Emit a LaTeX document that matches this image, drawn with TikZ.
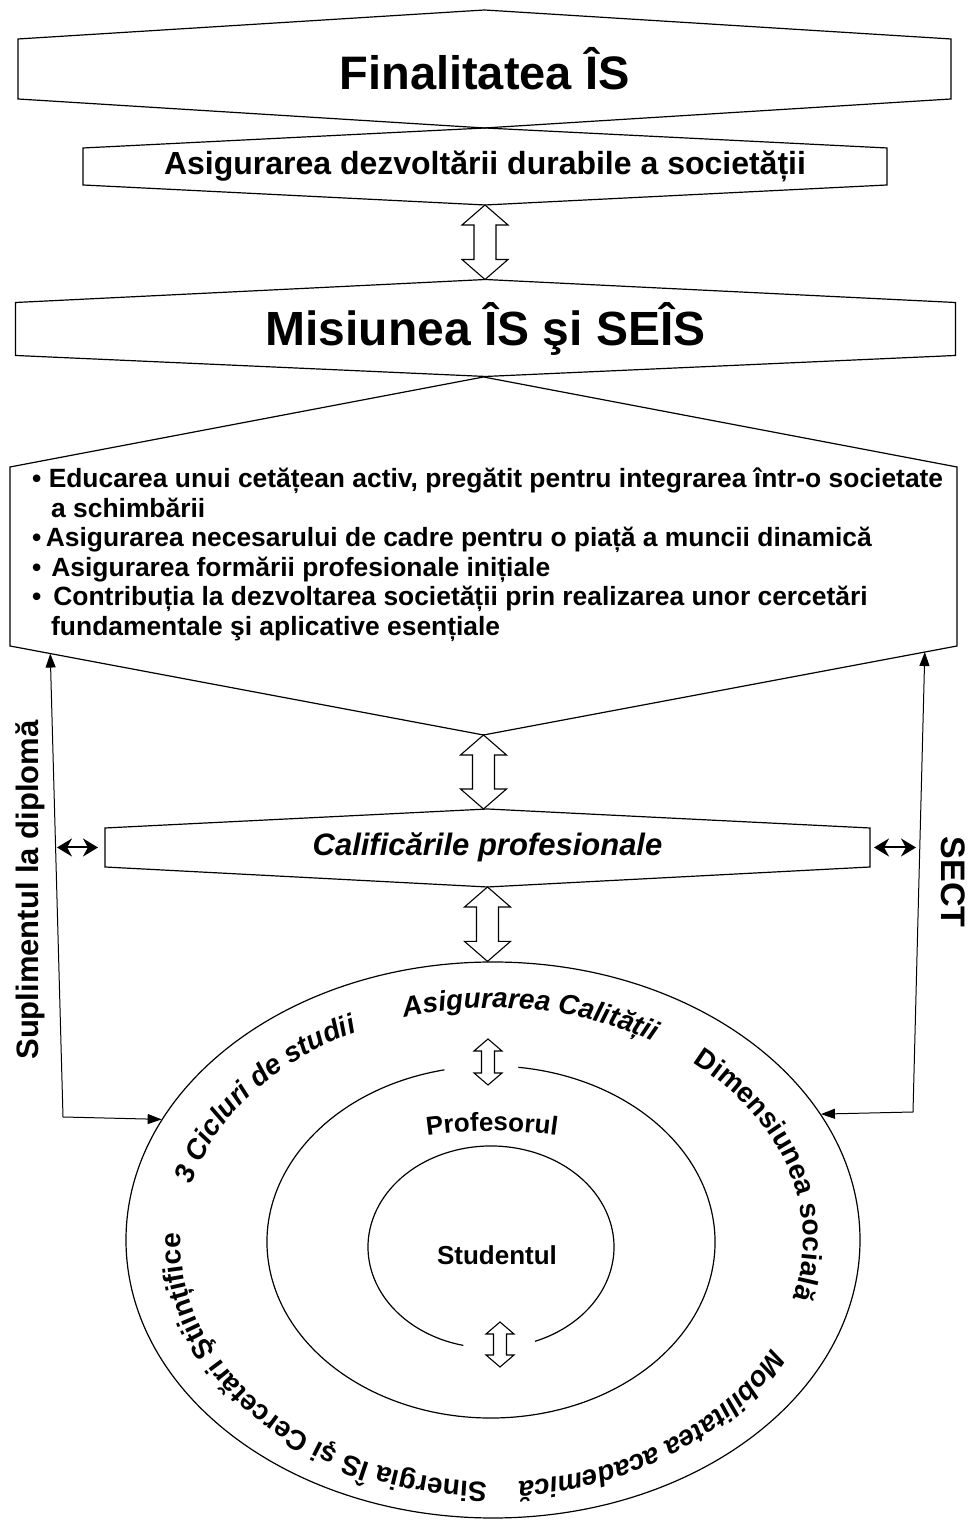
\documentclass[tikz,border=0pt]{standalone}
\usepackage{fontspec}
\setmainfont{Liberation Sans}
\usetikzlibrary{calc,shapes.geometric,arrows.meta,decorations.text}
\tikzset{hexbox/.style={inner sep=0pt,outer sep=0pt}}
\tikzset{frame/.style={draw,line width=1.2pt}}
\tikzset{hollow/.style={draw,line width=1.1pt,fill=white}}
\tikzset{ringline/.style={draw,line width=1.2pt}}
\tikzset{sidearrow/.style={line width=1pt,{Triangle[length=14pt,width=10pt]}-{Triangle[length=14pt,width=10pt]}}}
\tikzset{tinyarrow/.style={line width=2pt,{Stealth[length=15pt,width=18pt]}-{Stealth[length=15pt,width=18pt]}}}
\tikzset{bullets/.style={align=left,inner sep=0pt,font=\fontsize{26.4}{29.5}\selectfont\bfseries}}
\tikzset{ringtext/.style={decorate,decoration={text along path,text align=center,text={#1}}}}
\newcommand{\hexframe}[3]{%
  \coordinate (#1-top) at ($(#1.north)+(0,#2)$);
  \coordinate (#1-bot) at ($(#1.south)+(0,-#3)$);
  \draw[frame] (#1.north west) -- (#1-top) -- (#1.north east) -- (#1.south east)
    -- (#1-bot) -- (#1.south west) -- cycle;}
\newcommand{\twoway}[5]{%
  \draw[hollow] let \p1=(#4), \p2=(#5) in
    (\x1,\y1) -- (\x1+#1pt,\y1-#3pt) -- (\x1+#2pt,\y1-#3pt) -- (\x1+#2pt,\y2+#3pt)
    -- (\x1+#1pt,\y2+#3pt) -- (\x1,\y2) -- (\x1-#1pt,\y2+#3pt) -- (\x1-#2pt,\y2+#3pt)
    -- (\x1-#2pt,\y1-#3pt) -- (\x1-#1pt,\y1-#3pt) -- cycle;}
\newcommand{\ringbf}{\fontsize{28}{30}\selectfont\bfseries}
\newcommand{\ringit}{\fontsize{28}{30}\selectfont\bfseries\itshape}
\newcommand{\profbf}{\fontsize{26}{28}\selectfont\bfseries}

\begin{document}
\begin{tikzpicture}[x=1pt,y=1pt]
    \useasboundingbox (0,0) rectangle (968,1526);

    \node[hexbox,minimum width=933pt,minimum height=60pt,font=\fontsize{47}{50}\selectfont\bfseries] (fin) at (484.5,1457) {Finalitatea ÎS};
    \hexframe{fin}{29}{29}
    \node[hexbox,minimum width=804pt,minimum height=37pt,font=\fontsize{32}{34}\selectfont\bfseries] (dezv) at (485,1359.5) {Asigurarea dezvoltării durabile a societății};
    \hexframe{dezv}{20}{20}
    \node[hexbox,minimum width=940pt,minimum height=48pt,font=\fontsize{48}{50}\selectfont\bfseries] (mis) at (485.5,1197) {Misiunea ÎS şi SEÎS};
    \hexframe{mis}{23}{21}
    \node[hexbox,minimum width=947pt,minimum height=179pt] (goals) at (483.5,969.5) {};
    \hexframe{goals}{90}{89}
    \node[bullets,anchor=west] (goaltext) at ([xshift=22pt,yshift=2pt]goals.west) {%
      • Educarea unui cetățean activ, pregătit pentru integrarea într-o societate\\
      \hspace*{19pt}a schimbării\\
      •\,Asigurarea necesarului de cadre pentru o piață a muncii dinamică\\
      •\hspace{10pt}Asigurarea formării profesionale inițiale\\
      •\hspace{12pt}Contribuția la dezvoltarea societății prin realizarea unor cercetări\\
      \hspace*{19pt}fundamentale şi aplicative esențiale};
    \node[hexbox,minimum width=765pt,minimum height=39pt,font=\fontsize{31}{33}\selectfont\bfseries\itshape] (calif) at (487.5,678.5) {Calificările profesionale};
    \hexframe{calif}{19}{20}
    \node[draw,ellipse,line width=1.2pt,minimum width=734pt,minimum height=556pt,inner sep=0pt] (ring) at (493,286) {};

    \twoway{23}{11}{20}{dezv-bot}{mis-top}
    \twoway{23}{11}{20}{goals-bot}{calif-top}
    \twoway{23}{11}{20}{calif-bot}{ring.north}

    \draw[ringline] ([shift={(102:224 and 176)}]491,284) arc[start angle=102,end angle=443,x radius=224,y radius=176];
    \draw[ringline] ([shift={(-69:123 and 101)}]491,279) arc[start angle=-69,end angle=257,x radius=123,y radius=101];

    \coordinate (qualin) at (488,487);
    \coordinate (profin) at (488,441);
    \coordinate (studout) at (500,204);
    \coordinate (profout) at (500,159);
    \twoway{14}{6.5}{12}{qualin}{profin}
    \twoway{14}{6.5}{12}{studout}{profout}

    \node[font=\fontsize{26}{28}\selectfont\bfseries] (student) at (497,271) {Studentul};
    \path[ringtext={|\profbf|Profesorul}] ([shift={(100:460)}]492,-65) arc[start angle=100,end angle=80,radius=460];

    \path[ringtext={|\ringit|Asigurarea Calității}] ([shift={(115:310 and 232)}]493,286) arc[start angle=115,end angle=50,x radius=310,y radius=232];
    \path[ringtext={|\ringit|3 Cicluri de studii}] ([shift={(170:310 and 232)}]493,286) arc[start angle=170,end angle=113,x radius=310,y radius=232];
    \path[ringtext={|\ringbf|Dimensiunea socială}] ([shift={(52:310 and 232)}]493,286) arc[start angle=52,end angle=-17,x radius=310,y radius=232];
    \path[ringtext={|\ringit|Mobilitatea academică}] ([shift={(-24:310 and 238)}]493,282) arc[start angle=-24,end angle=-87,x radius=310,y radius=238];
    \path[ringtext={|\ringbf|Sinergia ÎS şi Cercetări Ştiințifice}] ([shift={(-90:312 and 238)}]493,282) arc[start angle=-90,end angle=-184,x radius=312,y radius=238];

    \node[rotate=90,font=\fontsize{31}{33}\selectfont\bfseries] (supl) at (30,636) {Suplimentul la diplomă};
    \node[rotate=-90,font=\fontsize{34}{36}\selectfont\bfseries] (sect) at (953,644) {SECT};

    \coordinate (supbend) at (63,409);
    \coordinate (sectbend) at (913,414);
    \draw[sidearrow] ($(goals.south west)!0.085!(goals-bot)$) -- (supbend) -- (ring.160);
    \draw[sidearrow] ($(goals.south east)!0.068!(goals-bot)$) -- (sectbend) -- (ring.21);

    \coordinate (supcal) at (57,678.5);
    \coordinate (sectcal) at (916,678.5);
    \draw[tinyarrow,shorten >=7pt] (supcal) -- (calif.west);
    \draw[tinyarrow,shorten >=4pt] (sectcal) -- (calif.east);
\end{tikzpicture}
\end{document}
